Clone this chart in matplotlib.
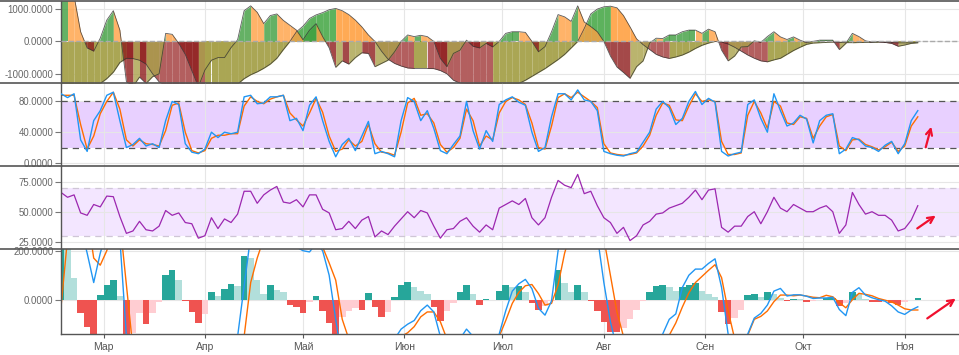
import numpy as np
import matplotlib
matplotlib.use('Agg')
import matplotlib.pyplot as plt
import matplotlib.dates as mdates
from matplotlib.lines import Line2D
from matplotlib.ticker import FuncFormatter, FixedLocator

plt.rcParams['font.family'] = ['Liberation Sans', 'DejaVu Sans']

# ---------------- data ----------------
dates = np.arange(np.datetime64('2019-02-16'), np.datetime64('2019-11-07'), np.timedelta64(2, 'D'))

osc_fast = [1500, 1500, 1400, 300, -200, -300, 100, 660, 950, 350,
            -1250, -1400, -1100, -1300, -1090, -1000, 250, 220, -60, -400,
            -900, -1400, -885, -580, -500, -500, -190, 50, 950, 1100,
            900, 550, 800, 850, 650, 500, 350, 50, 350, 550,
            150, -200, -800, -600, -700, -500, -350, -370, -780, -680,
            -580, -320, 0, 200, 150, 190, 150, 0, -525, -780,
            -370, -270, 40, -150, -200, -60, -170, 0, 250, 300,
            300, 280, 0, -320, -160, 300, 830, 760, 620, 1100,
            600, 460, 300, 0, -450, -790, -960, -1140, -780, -600,
            -50, 100, 90, 200, 200, 300, 350, 350, 250, 380,
            300, -270, -600, -450, -170, -160, 20, -30, 150, 300,
            140, 60, 140, 40, -40, 0, 40, 40, 40, -250,
            -60, 250, 150, 20, -30, -10, -30, -60, -150, -110,
            -60, -40]

osc_slow = [-1600, -1580, -1550, -1500, -1450, -1400, -1300, -1150, -950, -650,
            -520, -530, -580, -700, -1000, -1250, -1400, -1500, -1600, -1650,
            -1700, -1720, -1730, -1730, -1700, -1600, -1450, -1320, -1150, -1030,
            -940, -830, -700, -520, -250, 0, 300, 470, 710, 820,
            890, 980, 1020, 950, 830, 660, 450, 200, 0, -300,
            -550, -680, -760, -820, -834, -834, -834, -840, -900, -1000,
            -1200, -1290, -1300, -1400, -1450, -1550, -1600, -1580, -1500, -1400,
            -1300, -1200, -1080, -960, -840, -700, -560, -400, -200, 0,
            400, 850, 1000, 1070, 1090, 1040, 800, 450, 80, -100,
            -250, -400, -480, -525, -480, -420, -330, -216, -120, -50,
            0, -20, -80, -180, -300, -420, -520, -600, -630, -570,
            -520, -400, -280, -180, -90, -50, -40, -30, -20, -30,
            -40, -40, -35, -30, -25, -20, -25, -35, -45, -45,
            -40, -40]

stoch_k = [90, 85, 90, 30, 15, 55, 68, 88, 92, 55,
           20, 24, 32, 22, 25, 20, 55, 80, 76, 25,
           14, 12, 18, 40, 33, 40, 38, 40, 86, 88,
           77, 78, 86, 86, 88, 55, 58, 42, 75, 86,
           55, 28, 8, 24, 32, 16, 35, 54, 12, 15,
           12, 8, 55, 85, 80, 55, 68, 45, 16, 12,
           24, 35, 80, 42, 18, 42, 28, 76, 82, 86,
           79, 75, 40, 15, 20, 60, 90, 90, 82, 95,
           82, 80, 68, 15, 12, 10, 9, 12, 14, 27,
           40, 70, 80, 72, 50, 58, 80, 93, 76, 84,
           79, 15, 9, 12, 14, 76, 82, 58, 40, 90,
           68, 48, 52, 62, 57, 26, 55, 62, 64, 12,
           18, 33, 30, 22, 20, 15, 23, 28, 12, 25,
           55, 68]

stoch_d = [88, 88, 88, 50, 18, 35, 64, 80, 92, 70,
           30, 22, 30, 25, 24, 22, 42, 75, 78, 40,
           16, 13, 16, 32, 36, 36, 38, 38, 74, 86,
           80, 77, 83, 86, 88, 65, 56, 48, 65, 84,
           66, 35, 15, 18, 30, 22, 28, 50, 25, 14,
           13, 10, 40, 78, 84, 62, 64, 52, 24, 14,
           20, 32, 70, 55, 22, 35, 30, 65, 80, 85,
           82, 76, 52, 20, 18, 48, 85, 90, 85, 92,
           86, 80, 72, 25, 13, 11, 10, 11, 13, 22,
           36, 62, 78, 75, 56, 55, 74, 90, 80, 82,
           80, 28, 11, 11, 13, 62, 80, 65, 45, 80,
           74, 52, 50, 60, 58, 32, 48, 60, 63, 22,
           16, 30, 31, 24, 21, 17, 21, 27, 15, 22,
           48, 60]

rsi = [66, 62, 64, 49, 47, 56, 54, 63, 62.5, 46,
       32, 34, 42, 35, 34, 38, 51, 47, 49, 41,
       40, 28, 30, 45, 36, 44, 41, 48, 67, 67,
       57, 64, 68, 71, 58, 57, 60, 54, 64, 64,
       52, 49, 35, 36, 42, 36, 43, 46, 29, 34,
       31, 38, 44, 50, 45, 51, 49, 38, 28, 35,
       36, 42, 45, 38, 33, 39, 35, 53, 56, 59,
       56, 61, 45, 39, 45, 62, 76, 72, 70, 81,
       65, 67, 55, 45, 41, 32, 37, 26, 30, 39,
       42, 48, 49, 53, 55, 57, 62, 68, 60, 68,
       69, 37, 33, 38, 38, 46, 50, 40, 50, 62,
       53, 50, 56, 53, 50, 50, 53, 55, 50, 32,
       39, 66, 56, 48, 50, 47, 47, 43, 34, 36,
       43, 55]

macd = [450, 420, 380, 300, 190, 70, 190, 280, 320, 250,
        -150, -300, -380, -420, -450, -430, -400, -350, -150, -200,
        -300, -350, -380, -350, -300, -250, -200, -150, 55, 260,
        350, 400, 420, 400, 350, 280, 215, 200, 195, 230,
        200, 100, -80, -250, -350, -380, -380, -350, -300, -250,
        -200, -160, -120, -100, -85, -45, -22, -50, -150, -200,
        -200, -160, -120, -150, -200, -250, -200, -140, -45, 35,
        65, 83, 45, -35, -63, -5, 200, 300, 380, 420,
        400, 350, 260, 70, -90, -200, -300, -350, -370, -350,
        -300, -200, -140, -80, -58, 50, 100, 125, 125, 148,
        167, 50, -140, -220, -180, -140, -75, -56, -22, 35,
        46, 15, 20, 20, 14, 5, 7, 7, 10, -40,
        -65, 30, 49, 19, 8, 0, -6, -25, -50, -60,
        -42, -29]

signal = [-30, 250, 380, 400, 350, 170, 141, 200, 300, 320,
          60, -200, -320, -380, -420, -440, -430, -400, -360, -330,
          -320, -330, -350, -350, -330, -300, -260, -220, -150, 70,
          170, 250, 320, 340, 330, 310, 290, 270, 250, 250,
          215, 150, 80, -80, -160, -250, -300, -320, -300, -260,
          -220, -180, -150, -135, -110, -70, -50, -50, -90, -160,
          -200, -220, -220, -220, -220, -230, -200, -150, -85, -15,
          30, 57, 62, 25, -22, -15, 60, 190, 280, 350,
          380, 370, 330, 250, 100, -50, -150, -250, -300, -320,
          -300, -250, -190, -145, -95, -30, 28, 70, 95, 120,
          143, 90, -45, -160, -190, -145, -80, -68, -46, -8,
          19, 19, 16, 19, 15, 10, 8, 18, 12, -12,
          -33, 0, 26, 22, 16, 5, -2, -9, -22, -37,
          -42, -42]

hist = [260, 210, 90, -55, -110, -145, 20, 60, 80, 15,
        -140, -135, -55, -100, -55, -8, 100, 120, 80, -5,
        -50, -95, -60, 30, 15, 45, 65, 55, 180, 170,
        80, 25, 60, 40, 30, -20, -30, -55, -8, 15,
        -45, -95, -140, -70, -48, -35, -40, 28, -30, -70,
        -50, 10, 60, 72, 50, 35, 22, -30, -85, -45,
        -15, 30, 60, 25, -20, 3, 0, 35, 58, 50,
        55, 30, -15, -40, -25, -5, 120, 70, 30, 60,
        30, -5, -45, -90, -130, -130, -115, -80, -40, -5,
        30, 55, 60, 50, 35, 52, 60, 70, 35, 25,
        12, -50, -100, -75, -40, 20, 22, 12, 30, 25,
        8, -5, 3, 2, -8, -5, 0, 5, 5, -25,
        -12, 32, 25, 3, -8, -10, -5, -15, -20, -8,
        -3, 5]

month_ticks = ['2019-03-01', '2019-04-01', '2019-05-01', '2019-06-01', '2019-07-01',
               '2019-08-01', '2019-09-01', '2019-10-01', '2019-11-01']
month_labels = ['Мар', 'Апр', 'Май', 'Июн', 'Июл', 'Авг', 'Сен', 'Окт', 'Ноя']

# ---------------- figure ----------------
W, H = 959, 355
fig = plt.figure(figsize=(W / 100, H / 100), dpi=100)
fig.patch.set_facecolor('white')

x = mdates.date2num(dates)
xt = mdates.date2num(np.array(month_ticks, dtype='datetime64[D]'))
x0 = mdates.date2num(np.datetime64('2019-02-16'))
xlim = (x0, x0 + 274.6)

L = 61 / W
def add_ax(top_px, bot_px):
    return fig.add_axes([L, (H - bot_px) / H, 1 - L, (bot_px - top_px) / H])

ax1 = add_ax(1, 83)
ax2 = add_ax(83, 166)
ax3 = add_ax(166, 249)
ax4 = add_ax(249, 334)

fmt = FuncFormatter(lambda v, p: f"{v:.4f}")
for ax in (ax1, ax2, ax3, ax4):
    ax.set_xlim(*xlim)
    ax.xaxis.set_major_locator(FixedLocator(xt))
    ax.grid(True, color='#e6e6e6', lw=0.8)
    ax.set_axisbelow(True)
    for s in ('top', 'right', 'bottom'):
        ax.spines[s].set_visible(False)
    ax.spines['left'].set_color('#555555')
    ax.spines['left'].set_linewidth(1.0)
    ax.yaxis.set_major_formatter(fmt)
    ax.tick_params(axis='y', labelsize=6.9, colors='#777777', length=4, pad=1.5,
                   labelcolor='#666666')
    ax.tick_params(axis='x', length=0, labelbottom=False)
    ax.set_facecolor('none')


def seg_fill(ax, xs, ys, cmap, alpha, z):
    for i in range(len(xs) - 1):
        xa, xb, ya, yb = xs[i], xs[i + 1], ys[i], ys[i + 1]
        rising = yb >= ya
        if ya * yb < 0:
            xc = xa + (xb - xa) * ya / (ya - yb)
            parts = [(xa, xc, ya, 0.0), (xc, xb, 0.0, yb)]
        else:
            parts = [(xa, xb, ya, yb)]
        for a, b, p, q in parts:
            pos = (p + q) >= 0
            ax.fill_between([a, b], [0, 0], [p, q], color=cmap[(pos, rising)],
                            alpha=alpha, lw=0, zorder=z)

# ---- panel 1 ----
slow_c = {(True, True): '#5db25d', (True, False): '#ffaa55',
          (False, True): '#aaa654', (False, False): '#b35f5f'}
fast_c = {(True, True): '#3e9e3e', (True, False): '#ffa044',
          (False, True): '#a9a24a', (False, False): '#8e1c1c'}
seg_fill(ax1, x, np.array(osc_slow, float), slow_c, 1.0, 1)
seg_fill(ax1, x, np.array(osc_fast, float), fast_c, 0.8, 2)
ax1.plot(x, osc_slow, color='#333333', lw=0.6, alpha=0.8, zorder=3)
ax1.plot(x, osc_fast, color='#333333', lw=0.6, alpha=0.8, zorder=3)
ax1.axhline(0, color='#aaaaaa', ls='--', lw=1.0, zorder=4)
ax1.set_ylim(-1285, 1250)
ax1.set_yticks([-1000, 0, 1000])

# ---- panel 2 ----
ax2.axhspan(20, 80, color='#e8d0ff', zorder=0.5, lw=0)
ax2.axhline(80, color='#555555', ls=(0, (5, 4)), lw=0.9, zorder=1)
ax2.axhline(20, color='#555555', ls=(0, (5, 4)), lw=0.9, zorder=1)
ax2.plot(x, stoch_d, color='#ff6d00', lw=1.0, zorder=2)
ax2.plot(x, stoch_k, color='#2196f3', lw=1.0, zorder=3)
ax2.set_ylim(-4, 104)
ax2.set_yticks([0, 40, 80])

# ---- panel 3 ----
ax3.axhspan(30, 70, color='#f3e6ff', zorder=0.5, lw=0)
ax3.axhline(70, color='#cfc6d6', ls=(0, (5, 4)), lw=0.9, zorder=1)
ax3.axhline(30, color='#cfc6d6', ls=(0, (5, 4)), lw=0.9, zorder=1)
ax3.plot(x, rsi, color='#9c27b0', lw=0.9, zorder=2)
ax3.set_ylim(19, 88)
ax3.set_yticks([25, 50, 75])

# ---- panel 4 ----
hcol = []
for i, h in enumerate(hist):
    prev = hist[i - 1] if i > 0 else h
    if h >= 0:
        hcol.append('#26a69a' if h >= prev else '#b2dfdb')
    else:
        hcol.append('#ef5350' if h <= prev else '#ffcdd2')
ax4.bar(x, hist, width=2.0, color=hcol, lw=0, zorder=1, align='center')
ax4.plot(x, signal, color='#ff6d00', lw=1.0, zorder=2)
ax4.plot(x, macd, color='#2196f3', lw=1.0, zorder=3)
ax4.set_ylim(-140, 207)
ax4.set_yticks([0, 200])
ax4.tick_params(axis='x', length=3, color='#555555', labelbottom=True,
                labelsize=7.5, labelcolor='#555555', pad=3)
ax4.set_xticklabels(month_labels)
ax4.spines['bottom'].set_visible(True)
ax4.spines['bottom'].set_color('#555555')
ax4.spines['bottom'].set_linewidth(1.0)

# ---- separators ----
for ypx in (1, 83, 166, 249):
    fig.add_artist(Line2D([0, 1], [(H - ypx) / H] * 2, color='#555555', lw=1.2,
                          transform=fig.transFigure, zorder=10))

# ---- arrows ----
arrow_kw = dict(arrowstyle='->', color='#f0102e', lw=1.6, mutation_scale=11)
for (sx, sy), (ex, ey) in [((925, 150), (932, 124)), ((915, 230), (938, 214)),
                           ((925, 320), (958, 297))]:
    fig.add_artist(matplotlib.patches.FancyArrowPatch(
        (sx / W, (H - sy) / H), (ex / W, (H - ey) / H),
        transform=fig.transFigure, zorder=11, **arrow_kw))

fig.savefig('out.png', dpi=100)
